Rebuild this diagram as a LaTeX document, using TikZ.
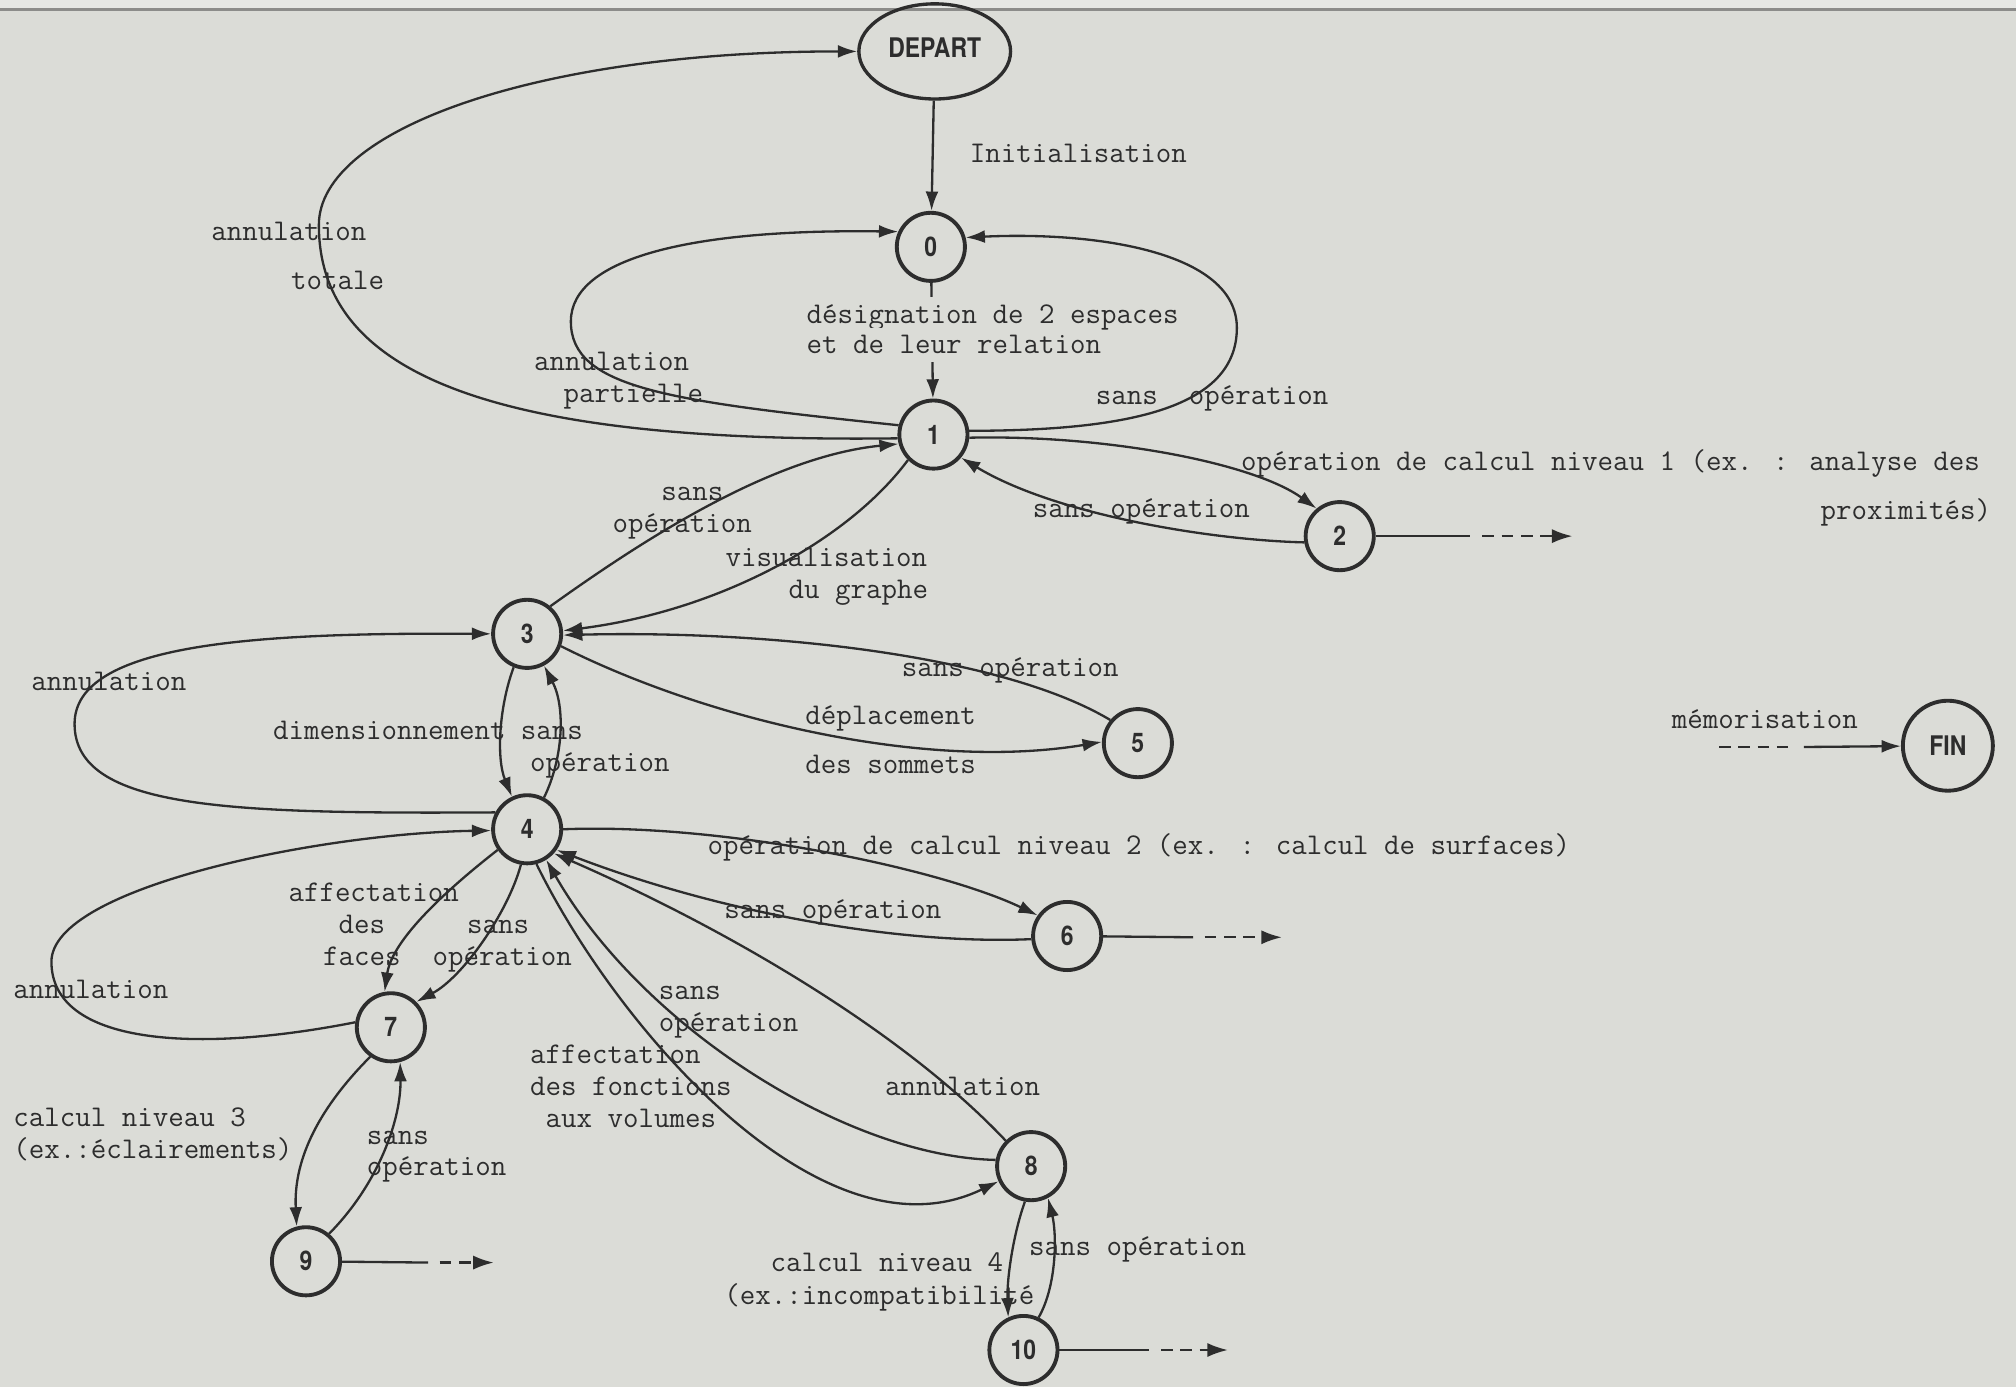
\documentclass[tikz,border=0pt]{standalone}
\usepackage{fontspec}
\usetikzlibrary{arrows.meta,shapes.geometric}
\newfontfamily\labfont[FakeStretch=0.85]{TeX Gyre Heros}
\definecolor{bg}{RGB}{219,220,215}
\definecolor{band}{RGB}{230,231,228}
\definecolor{edgegray}{RGB}{140,140,138}
\definecolor{ink}{RGB}{45,45,45}
\tikzset{
 st/.style={circle, draw=ink, line width=1.5pt, minimum size=26.5pt, inner sep=0pt,
   font=\labfont\bfseries\fontsize{10.5}{12}\selectfont, text=ink},
 conn/.style={draw=ink, line width=0.9pt, -{Latex[length=7.5pt,width=5pt]}},
 plainline/.style={draw=ink, line width=0.9pt},
 dashpart/.style={draw=ink, line width=0.9pt, dash pattern=on 4.5pt off 3pt},
 dtip/.style={draw=ink, line width=0.9pt, dash pattern=on 4.5pt off 3pt, -{Latex[length=8pt,width=5.5pt]}},
 lbl/.style={anchor=mid west, inner sep=0pt, font=\ttfamily\fontsize{11.7}{12.5}\selectfont, text=ink},
 lblr/.style={lbl, anchor=mid east},
}
\begin{document}
\begin{tikzpicture}[x=0.5pt,y=-0.5pt]
\fill[bg] (0,0) rectangle (1568,1079);
\useasboundingbox (0,0) rectangle (1568,1079);
\fill[band] (0,0) rectangle (1568,6);
\draw[edgegray, line width=1.2pt] (0,7.5) -- (1568,7.5);

% states
\node[ellipse, draw=ink, line width=1.3pt, minimum width=59pt, minimum height=37pt, inner sep=0pt,
  font=\labfont\bfseries\fontsize{10.5}{12}\selectfont, text=ink] (dep) at (727,40) {\raisebox{3pt}{DEPART}};
\node[st] (n0) at (724,192) {0};
\node[st] (n1) at (726,338) {1};
\node[st] (n2) at (1042,417) {2};
\node[st] (n3) at (410,493) {3};
\node[st] (n4) at (410,645) {4};
\node[st] (n5) at (885,578) {5};
\node[st] (n6) at (830,728) {6};
\node[st] (n7) at (304,799) {7};
\node[st] (n8) at (802,907) {8};
\node[st] (n9) at (238,981) {9};
\node[st] (n10) at (796,1050) {10};
\node[st, minimum size=35pt] (fin) at (1515,580) {FIN};

% free ends
\coordinate (d2a) at (1143,417); \coordinate (d2b) at (1153,417); \coordinate (d2c) at (1223,417);
\coordinate (d6a) at (928,729); \coordinate (d6b) at (937,729); \coordinate (d6c) at (997,729);
\coordinate (d9a) at (333,982); \coordinate (d9b) at (342,982); \coordinate (d9c) at (384,982);
\coordinate (d10a) at (894,1050); \coordinate (d10b) at (903,1050); \coordinate (d10c) at (955,1050);
\coordinate (m1) at (1337,581); \coordinate (m2) at (1392,581); \coordinate (m3) at (1403,581);

% DEPART / 0 / 1
\draw[conn] (dep) -- (n0);
\draw[conn] (n0) -- (n1);
\draw[conn] (n1.186) .. controls (380,345) and (248,290) .. (248,175) .. controls (248,100) and (420,40) .. (dep.west);
\draw[conn] (n1.165) .. controls (520,312) and (444,302) .. (444,250) .. controls (444,200) and (540,178) .. (n0.155);
\draw[conn] (n1.6) .. controls (870,335) and (962,320) .. (962,255) .. controls (962,195) and (850,180) .. (n0.15);

% 1 - 2
\draw[conn] (n1.-5) .. controls (860,338) and (975,360) .. (n2.130);
\draw[conn] (n2.190) .. controls (940,420) and (820,400) .. (n1.-40);
\draw[plainline] (n2) -- (d2a);
\draw[dtip] (d2b) -- (d2c);

% 1 - 3
\draw[conn] (n3.50) .. controls (500,420) and (600,355) .. (n1.195);
\draw[conn] (n1.-135) .. controls (660,420) and (560,475) .. (n3.5);

% 3 - 5
\draw[conn] (n5.140) .. controls (780,510) and (600,490) .. (n3.-2);
\draw[conn] (n3.-20) .. controls (550,560) and (720,600) .. (n5.178);

% 3 - 4
\draw[conn] (n4.152) .. controls (180,633) and (58,630) .. (58,563) .. controls (58,500) and (200,492) .. (n3.180);
\draw[conn] (n3.-112) .. controls (388,550) and (386,590) .. (n4.115);
\draw[conn] (n4.62) .. controls (438,590) and (440,550) .. (n3.-62);

% 4 - 6
\draw[conn] (n4.0) .. controls (560,640) and (730,675) .. (n6.145);
\draw[conn] (n6.185) .. controls (700,735) and (560,710) .. (n4.-35);
\draw[plainline] (n6) -- (d6a);
\draw[dtip] (d6b) -- (d6c);

% 4 - 8
\draw[conn] (n8.135) .. controls (700,800) and (560,720) .. (n4.-42);
\draw[conn] (n8.170) .. controls (660,900) and (500,800) .. (n4.-58);
\draw[conn] (n4.-75) .. controls (480,800) and (640,985) .. (n8.205);

% 4 - 7
\draw[conn] (n7.172) .. controls (150,820) and (40,812) .. (40,748) .. controls (40,690) and (250,648) .. (n4.182);
\draw[conn] (n4.-145) .. controls (350,690) and (305,730) .. (n7.100);
\draw[conn] (n4.-100) .. controls (395,710) and (360,760) .. (n7.45);

% 7 - 9
\draw[conn] (n7.-125) .. controls (250,860) and (228,900) .. (n9.105);
\draw[conn] (n9.50) .. controls (295,920) and (312,870) .. (n7.-75);
\draw[plainline] (n9) -- (d9a);
\draw[dtip] (d9b) -- (d9c);

% 8 - 10
\draw[conn] (n8.-100) .. controls (788,960) and (783,995) .. (n10.115);
\draw[conn] (n10.65) .. controls (822,1000) and (822,960) .. (n8.-62);
\draw[plainline] (n10) -- (d10a);
\draw[dtip] (d10b) -- (d10c);

% FIN
\draw[dashpart] (m1) -- (m2);
\draw[conn] (m3) -- (fin);

% labels
\node[lbl] (t1) at (754,122) {Initialisation};
\node[lbl] (t2) at (164,183) {annulation};
\node[lbl] (t3) at (226,221) {totale};
\node[lbl, fill=bg, inner ysep=3pt] (t4) at (627,247) {désignation de 2 espaces};
\node[lbl, fill=bg, inner ysep=3pt] (t5) at (627,271) {et de leur relation};
\node[lbl] (t6) at (415,284) {annulation};
\node[lbl] (t7) at (438,309) {partielle};
\node[lbl] (t8) at (852,310) {sans\ \ opération};
\node[lbl] (t9) at (965,362) {opération de calcul niveau 1 (ex. : analyse des};
\node[lblr] (t10) at (1549,400) {proximités)};
\node[lbl] (t11) at (803,398) {sans opération};
\node[lbl] (t12) at (514,385) {sans};
\node[lbl] (t13) at (476,410) {opération};
\node[lbl] (t14) at (564,436) {visualisation};
\node[lbl] (t15) at (613,461) {du graphe};
\node[lbl] (t16) at (701,522) {sans opération};
\node[lbl] (t17) at (626,559) {déplacement};
\node[lbl] (t18) at (626,597) {des sommets};
\node[lbl] (t19) at (24,533) {annulation};
\node[lbl] (t20) at (212,571) {dimensionnement sans};
\node[lbl] (t21) at (412,596) {opération};
\node[lbl] (t22) at (550,660) {opération de calcul niveau 2 (ex. : calcul de surfaces)};
\node[lbl] (t23) at (563,710) {sans opération};
\node[lbl] (t24) at (224,697) {affectation};
\node[lbl] (t25) at (263,722) {des};
\node[lbl] (t26) at (363,722) {sans};
\node[lbl] (t27) at (251,747) {faces};
\node[lbl] (t28) at (336,747) {opération};
\node[lbl] (t29) at (10,772) {annulation};
\node[lbl] (t30) at (512,773) {sans};
\node[lbl] (t31) at (512,798) {opération};
\node[lbl] (t32) at (412,823) {affectation};
\node[lbl] (t33) at (412,848) {des fonctions};
\node[lbl] (t34) at (424,873) {aux volumes};
\node[lbl] (t35) at (688,848) {annulation};
\node[lbl] (t36) at (10,872) {calcul niveau 3};
\node[lbl] (t37) at (10,897) {(ex.:éclairements)};
\node[lbl] (t38) at (285,886) {sans};
\node[lbl] (t39) at (285,910) {opération};
\node[lbl] (t40) at (599,985) {calcul niveau 4};
\node[lbl] (t41) at (563,1010) {(ex.:incompatibilité};
\node[lbl] (t42) at (800,972) {sans opération};
\node[lbl] (t43) at (1300,562) {mémorisation};
\end{tikzpicture}
\end{document}
